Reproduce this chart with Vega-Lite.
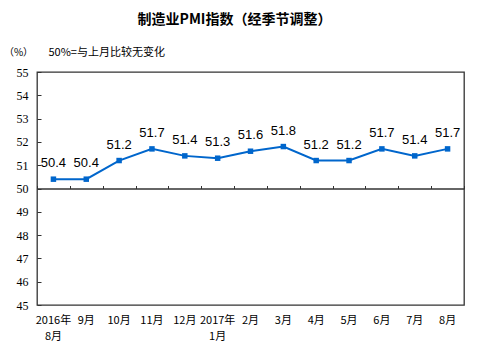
{
  "$schema": "https://vega.github.io/schema/vega-lite/v6.json",
  "width": 427,
  "height": 233,
  "autosize": {"type": "none"},
  "padding": {"left": 37, "top": 72, "right": 14, "bottom": 49},
  "background": "white",
  "config": {"view": {"stroke": "#333333", "strokeWidth": 1.3}},
  "title": {
    "text": "制造业PMI指数（经季节调整）",
    "font": "Noto Sans CJK SC",
    "fontSize": 14,
    "fontWeight": "bold",
    "color": "#000000",
    "anchor": "middle",
    "frame": "group",
    "dx": -16,
    "offset": 19
  },
  "data": {
    "values": [
      {"month": "2016年 8月", "value": 50.4},
      {"month": "9月", "value": 50.4},
      {"month": "10月", "value": 51.2},
      {"month": "11月", "value": 51.7},
      {"month": "12月", "value": 51.4},
      {"month": "2017年 1月", "value": 51.3},
      {"month": "2月", "value": 51.6},
      {"month": "3月", "value": 51.8},
      {"month": "4月", "value": 51.2},
      {"month": "5月", "value": 51.2},
      {"month": "6月", "value": 51.7},
      {"month": "7月", "value": 51.4},
      {"month": "8月", "value": 51.7}
    ]
  },
  "encoding": {
    "y": {
      "field": "value",
      "type": "quantitative",
      "scale": {"domain": [45, 55], "nice": false, "zero": false},
      "axis": {
        "values": [45, 46, 47, 48, 49, 50, 51, 52, 53, 54, 55],
        "grid": false,
        "domain": false,
        "tickSize": -4,
        "tickColor": "#333333",
        "labelPadding": 13,
        "labelFont": "Liberation Serif",
        "labelFontSize": 12,
        "labelColor": "#000000",
        "title": "（%）",
        "titleAngle": 0,
        "titleX": -19,
        "titleY": -20,
        "titleAlign": "center",
        "titleBaseline": "middle",
        "titleFont": "Noto Sans CJK SC",
        "titleFontSize": 10,
        "titleFontWeight": "normal",
        "titleColor": "#000000"
      }
    }
  },
  "layer": [
    {
      "mark": {"type": "line", "color": "#0066CC", "strokeWidth": 2},
      "encoding": {
        "x": {
          "field": "month",
          "type": "ordinal",
          "sort": null,
          "scale": {"type": "band", "paddingInner": 0, "paddingOuter": 0},
          "axis": {
            "orient": "bottom",
            "domain": false,
            "ticks": false,
            "labelPadding": 9,
            "labelAngle": 0,
            "labelFont": "Noto Sans CJK SC",
            "labelFontSize": 11,
            "labelColor": "#000000",
            "labelExpr": "split(datum.label, ' ')",
            "labelLineHeight": 16,
            "labelOverlap": false,
            "title": null
          }
        }
      }
    },
    {
      "mark": {"type": "square", "filled": true, "size": 30, "color": "#0066CC", "opacity": 1},
      "encoding": {
        "x": {"field": "month", "type": "ordinal", "sort": null, "axis": null}
      }
    },
    {
      "mark": {"type": "text", "font": "Liberation Sans", "fontSize": 13, "color": "#000000", "dy": -12, "baseline": "alphabetic"},
      "encoding": {
        "x": {
          "field": "month",
          "type": "ordinal",
          "sort": null,
          "axis": {
            "orient": "top",
            "offset": -116.5,
            "labels": false,
            "grid": false,
            "domainColor": "#333333",
            "domainWidth": 1.3,
            "tickColor": "#333333",
            "tickSize": 3,
            "tickBand": "extent",
            "title": "50%=与上月比较无变化",
            "titleX": 11,
            "titleY": -136.5,
            "titleAlign": "left",
            "titleBaseline": "middle",
            "titleFont": "Noto Sans CJK SC",
            "titleFontSize": 11,
            "titleFontWeight": "normal",
            "titleColor": "#000000"
          }
        },
        "text": {"field": "value", "type": "quantitative", "format": ".1f"}
      }
    }
  ],
  "resolve": {"axis": {"x": "independent"}}
}
